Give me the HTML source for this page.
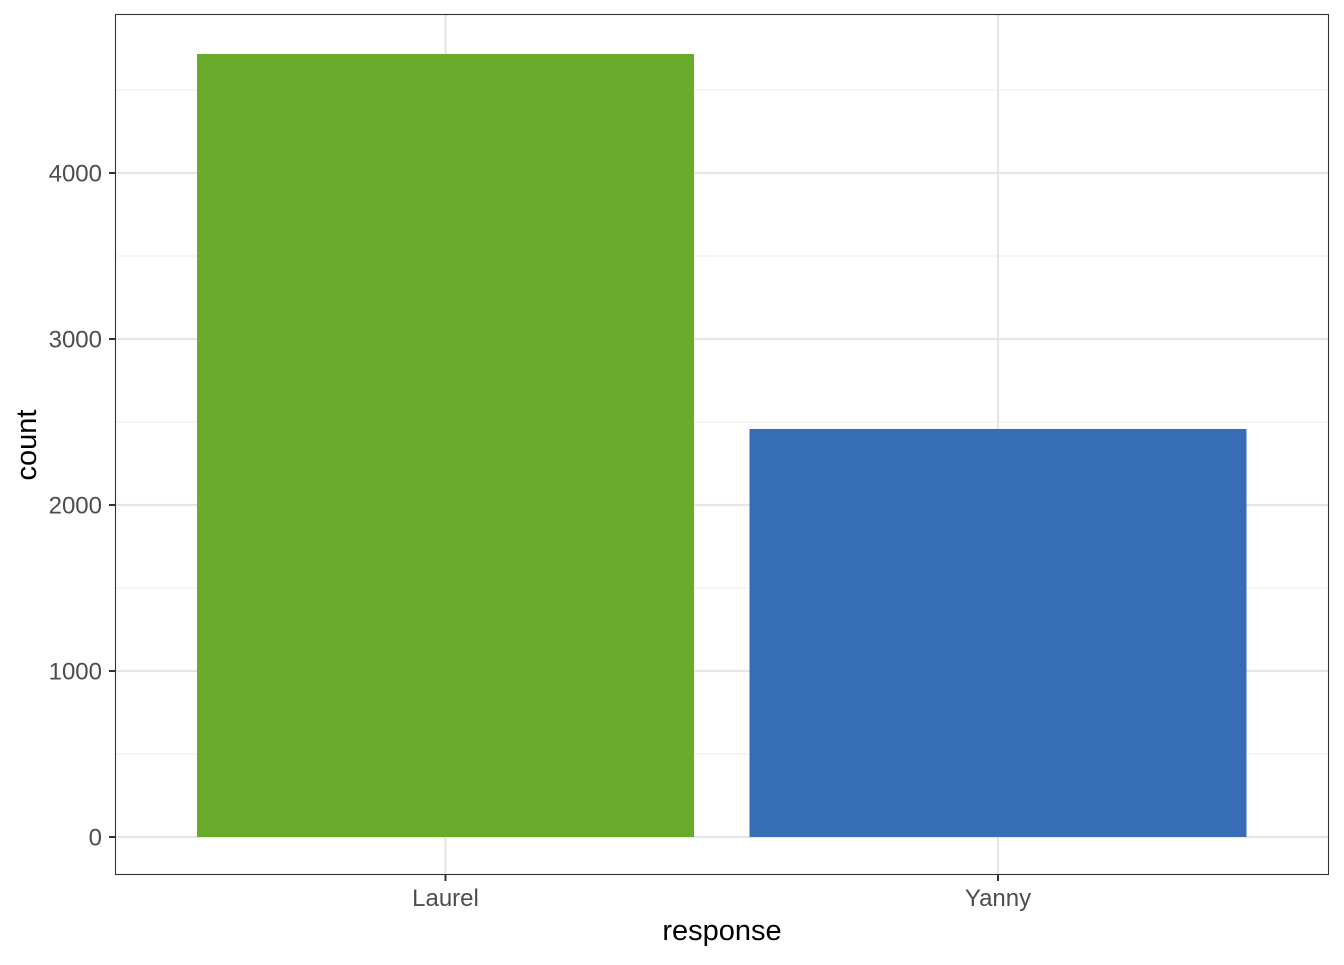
<!DOCTYPE html>
<html><head><meta charset="utf-8"><style>
html,body{margin:0;padding:0;background:#fff;}
svg text{font-family:"Liberation Sans",Arial,sans-serif;}
</style></head><body>
<svg id="chart" width="1344" height="960" xmlns="http://www.w3.org/2000/svg">
<rect x="0" y="0" width="1344" height="960" fill="#fff"/>
<g id="grid"></g>
<g id="bars"></g>
<rect x="115.5" y="14.5" width="1213" height="860" fill="none" stroke="#333" stroke-width="1.1"/>
<g id="axes"></g>
<text x="722" y="940" text-anchor="middle" font-size="29" fill="#000">response</text>
<text transform="translate(36,445) rotate(-90)" text-anchor="middle" font-size="29" fill="#000">count</text>
</svg>
<script>
const categories = ["Laurel", "Yanny"];
const counts = [4717, 2458];
const colors = ["#6aab2b", "#376db4"];
const yTicks = [0, 1000, 2000, 3000, 4000];
const yTickLabels = ["0", "1000", "2000", "3000", "4000"];

const NS = "http://www.w3.org/2000/svg";
const panelL = 115, panelR = 1329, panelT = 14, panelB = 875;
const y0px = 837, pxPer = 0.166;
function yScale(v){ return y0px - v * pxPer; }
const band = 552.5, xStart = 445.5;
function xScale(i){ return xStart + i * band; }
const barW = 497;

function mk(tag, attrs, parent){
  const el = document.createElementNS(NS, tag);
  for (const k in attrs) el.setAttribute(k, attrs[k]);
  parent.appendChild(el);
  return el;
}
const grid = document.getElementById("grid");
const bars = document.getElementById("bars");
const axes = document.getElementById("axes");

for (let i = 0; i < yTicks.length; i++) {
  const v = yTicks[i] + 500;
  const y = yScale(v);
  if (y < panelT) continue;
  const l = mk("line", {x1: panelL, x2: panelR, y1: y, y2: y, stroke: "#ebebeb", "stroke-width": 1.1}, grid);
  
  
}
yTicks.forEach((v, i) => {
  const y = yScale(v);
  const l = mk("line", {x1: panelL, x2: panelR, y1: y, y2: y, stroke: "#e5e5e5", "stroke-width": 2.2}, grid);
  
  
  const t = mk("line", {x1: 109, x2: 115, y1: y, y2: y, stroke: "#333", "stroke-width": 2}, axes);
  
  
  const tx = mk("text", {x: 102, y: y + 8.5, "text-anchor": "end", "font-size": 24, fill: "#4d4d4d"}, axes);
  tx.textContent = yTickLabels[i];
  
  
});
categories.forEach((c, i) => {
  const x = xScale(i);
  const l = mk("line", {x1: x, x2: x, y1: panelT, y2: panelB, stroke: "#e5e5e5", "stroke-width": 2.2}, grid);
  
  
  const r = mk("rect", {x: x - barW / 2, y: yScale(counts[i]), width: barW, height: yScale(0) - yScale(counts[i]), fill: colors[i]}, bars);
  
  
  const t = mk("line", {x1: x, x2: x, y1: 875, y2: 881, stroke: "#333", "stroke-width": 2}, axes);
  
  
  const tx = mk("text", {x: x, y: 906, "text-anchor": "middle", "font-size": 24, fill: "#4d4d4d"}, axes);
  tx.textContent = c;
  
  
});
</script>
</body></html>
